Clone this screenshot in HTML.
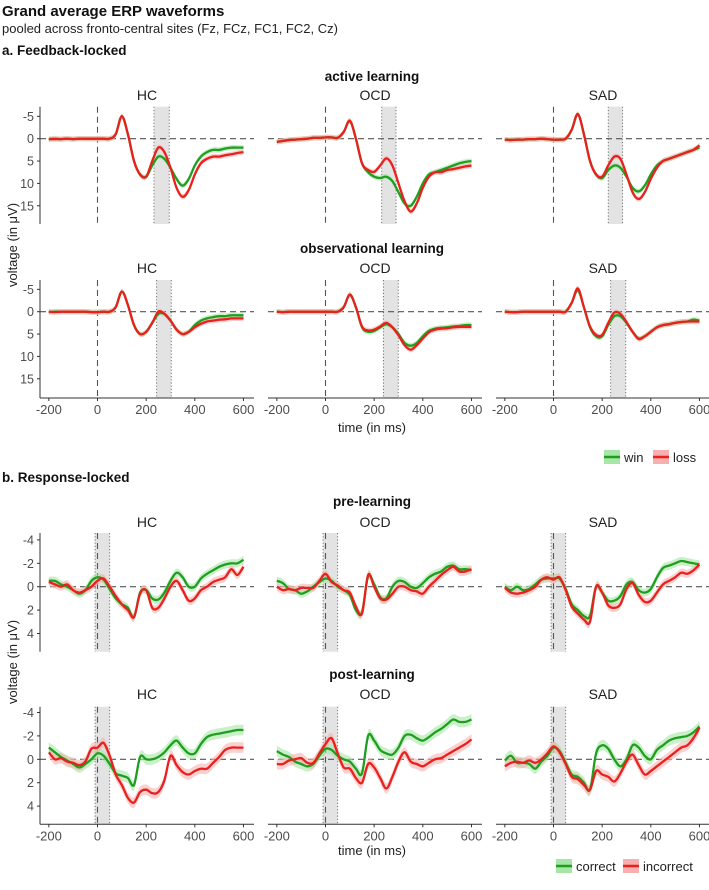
<!DOCTYPE html>
<html><head><meta charset="utf-8"><style>
body{margin:0;background:#fff;}
svg text{font-family:"Liberation Sans",sans-serif;}
</style></head><body>
<svg id="chart" width="709" height="885" viewBox="0 0 709 885" xmlns="http://www.w3.org/2000/svg">
<text x="2" y="16" font-size="15" font-weight="bold" fill="#111">Grand average ERP waveforms</text>
<text x="2" y="33" font-size="13" fill="#222">pooled across fronto-central sites (Fz, FCz, FC1, FC2, Cz)</text>
<text x="2" y="55" font-size="13.5" font-weight="bold" fill="#111">a. Feedback-locked</text>
<text x="372" y="81" font-size="13.5" font-weight="bold" text-anchor="middle" fill="#111">active learning</text>
<text x="372" y="253" font-size="13.5" font-weight="bold" text-anchor="middle" fill="#111">observational learning</text>
<text x="2" y="482" font-size="13.5" font-weight="bold" fill="#111">b. Response-locked</text>
<text x="372" y="506" font-size="13.5" font-weight="bold" text-anchor="middle" fill="#111">pre-learning</text>
<text x="372" y="679" font-size="13.5" font-weight="bold" text-anchor="middle" fill="#111">post-learning</text>
<text x="0" y="0" transform="translate(17,245) rotate(-90)" font-size="13" text-anchor="middle" fill="#222">voltage (in μV)</text>
<text x="0" y="0" transform="translate(17,662) rotate(-90)" font-size="13" text-anchor="middle" fill="#222">voltage (in μV)</text>
<text x="372" y="432" font-size="13" text-anchor="middle" fill="#222">time (in ms)</text>
<text x="372" y="855" font-size="13" text-anchor="middle" fill="#222">time (in ms)</text>
<g id="panels"></g>
<g>
  <rect x="604" y="450" width="16" height="14" fill="#a6e6a6"/>
  <line x1="604" y1="457" x2="620" y2="457" stroke="#1f9e1f" stroke-width="2.5"/>
  <text x="624" y="462" font-size="13" fill="#222">win</text>
  <rect x="653" y="450" width="16" height="14" fill="#f6b0b0"/>
  <line x1="653" y1="457" x2="669" y2="457" stroke="#e8211c" stroke-width="2.5"/>
  <text x="673" y="462" font-size="13" fill="#222">loss</text>
</g>
<g>
  <rect x="556" y="859" width="16" height="14" fill="#a6e6a6"/>
  <line x1="556" y1="866" x2="572" y2="866" stroke="#1f9e1f" stroke-width="2.5"/>
  <text x="576" y="871" font-size="13" fill="#222">correct</text>
  <rect x="623" y="859" width="16" height="14" fill="#f6b0b0"/>
  <line x1="623" y1="866" x2="639" y2="866" stroke="#e8211c" stroke-width="2.5"/>
  <text x="643" y="871" font-size="13" fill="#222">incorrect</text>
</g>
</svg>
<script>
const times=[-200,-175,-150,-125,-100,-75,-50,-25,0,25,50,75,100,125,150,175,200,225,250,275,300,325,350,375,400,425,450,475,500,525,550,575,600];
const xTicks=[-200,0,200,400,600];
const yTicksA=[-5,0,5,10,15];
const yTicksB=[-4,-2,0,2,4];
const groups=["HC","OCD","SAD"];
// feedback-locked, active learning
const actHCWin=[0.1,0,0.1,0,0.1,0,0,0,0,0,0,-1,-5,-1,5,8,8.5,6,4,4.5,6.5,9,10.5,9,6,4,3,2.5,2.5,2.2,2,2,2];
const actHCLoss=[0.1,0.1,0.1,0,0.1,0,0,0,0,0,0,-1,-5,-1,5,8,8.5,5,2,3,6.5,11,13,11.5,8,5.5,4.5,4,4,3.7,3.5,3.2,3];
const actOCDWin=[0.7,0.5,0.3,0.2,0.1,0,-0.2,-0.2,-0.3,-0.3,-0.2,-1.5,-4,0,5.5,7.5,8.5,8.8,8.5,9.5,12,14.5,15,13,10,8,7.5,7,6.5,6,5.5,5.2,5];
const actOCDLoss=[0.7,0.5,0.3,0.2,0.1,0,-0.2,-0.2,-0.3,-0.3,-0.2,-1.5,-4,0,5.5,7,7.4,6,4.4,6,10,14,16.3,14.5,11,8.5,7.5,7.5,7,6.8,6.5,6.2,6];
const actSADWin=[0.2,0.3,0.2,0.2,0.1,0.1,0,0.1,0.2,0.2,0,-2,-5.5,-1,5,8,8.8,7,6,6.5,8.5,11,11.8,10.5,8,6,5,4.5,4,3.5,3,2.5,2];
const actSADLoss=[0.2,0.3,0.2,0.2,0.1,0.1,0,0.1,0.2,0.2,0,-2,-5.5,-1,5,8,8.5,6,4,4.5,8,12,13.5,12,9,6.5,5,4.5,4,3.5,3,2.5,1.5];
// feedback-locked, observational learning
const obsHCWin=[0.1,0,0,0,0,0,0,0.1,0.1,0,0,-1,-4.5,-1.5,3,5,4.5,2.5,0.5,0.5,2,4,5,4.5,3,2,1.5,1.2,1,1,0.8,0.8,0.8];
const obsHCLoss=[0,0.1,0,0,0,0,0,0.1,0.1,0,0,-1,-4.5,-1.5,3,5,4.5,2.5,0,0.5,2,4,5,4.5,3.5,2.7,2.2,2,1.8,1.7,1.5,1.5,1.5];
const obsOCDWin=[0,0.1,0,0,0,0,0,0,0,0,0,-1,-3.8,-1,3.5,4.5,4.3,3.5,2.8,3.5,5,7,7.6,7,5.5,4.3,3.8,3.6,3.5,3.3,3.2,3,3];
const obsOCDLoss=[0,0.1,0,0,0,0,0,0,0,0,0,-1,-3.8,-1,3.3,4.2,4,3.3,2.5,3.5,5.3,7.5,8.5,7.5,6,4.6,4,3.8,3.7,3.5,3.4,3.4,3.4];
const obsSADWin=[0,0.1,0.1,0,0,0,0,0,0,0,0,-2,-4.8,-1,3.5,5.5,5.5,3,1,1,2.5,4.5,6,5.5,4.5,3.5,3,2.8,2.5,2.3,2.2,1.8,2];
const obsSADLoss=[0,0.1,0.1,0,0,0,0,0,0,0,0,-2,-5.2,-1,3.3,5.2,5.2,2.5,0.2,0.5,2.3,4.5,6.1,5.5,4.5,3.5,3,2.8,2.5,2.3,2.2,2.2,2.2];
// response-locked, pre-learning
const preHCCor=[-0.5,-0.5,-0.2,0,0.3,0.6,0.3,-0.5,-0.8,-0.6,0.2,1,1.5,1.8,2.6,0.5,0.3,1,1.1,0.5,-0.5,-1.2,-0.8,0,0,-0.7,-1.1,-1.4,-1.7,-1.9,-2,-2,-2.3];
const preHCInc=[-0.4,-0.2,0,-0.2,0.3,0.5,0.3,0,-0.5,-0.7,0,0.8,1.5,2,2.6,0.6,0.3,1.8,1.8,1,0,-0.5,0.3,1.2,1,0.3,0,-0.4,-0.6,-0.8,-1.5,-1,-1.7];
const preOCDCor=[-0.5,-0.3,0.2,0.3,0.6,0.4,0,-0.4,-0.7,-0.5,0,0.3,0.7,2,2.2,-0.9,-0.2,0.9,1,0,-0.5,-0.4,0,0.1,-0.3,-0.8,-1.1,-1.3,-1.7,-1.8,-1.5,-1.5,-1.4];
const preOCDInc=[0,0.3,0.2,0.3,0.1,0.1,0.1,-0.5,-1.1,-0.4,-0.1,0.3,0.5,1.7,2.3,-1,0,1,1.1,0.6,0,0,0.3,0.4,0.6,0,-0.5,-1,-1.4,-1.7,-1.3,-1.3,-1.5];
const preSADCor=[0,0.3,0,0.3,0.2,-0.2,-0.6,-0.7,-0.7,-0.7,0.2,1.5,2,2.5,2.5,0,0.5,1.2,1.2,0.8,-0.2,-0.4,0.3,0.5,0.2,-0.8,-1.6,-1.8,-2,-2.2,-2.1,-2,-1.9];
const preSADInc=[0.1,0.5,0.6,0.5,0.3,0,-0.6,-0.8,-0.6,-0.8,0.3,1.7,2.3,2.8,3,0,0.5,1.6,1.8,1.5,0.2,-0.3,0.7,1.3,1.2,0.5,-0.2,-0.5,-0.8,-1.2,-1.1,-1.4,-1.9];
// response-locked, post-learning
const postHCCor=[-1,-0.6,-0.2,0.1,0.4,0.7,0.4,0,-0.5,-0.3,0.4,1.2,1.4,1.6,2.2,-0.2,0,0,-0.2,-0.6,-1.2,-1.6,-1,-0.5,-0.5,-1.3,-1.9,-2.1,-2.2,-2.3,-2.4,-2.5,-2.5];
const postHCInc=[-0.6,0,-0.1,0.2,0.3,0.5,0.2,-0.9,-1,-1.4,-0.3,1.3,2.2,3.3,3.7,2.8,2.6,2.9,2.8,1.8,-0.3,0.5,1.1,1.3,1,0.8,0.8,0.3,-0.2,-0.8,-1,-1,-1];
const postOCDCor=[-0.7,-0.4,-0.2,0.2,0.4,0.6,0.4,-0.3,-0.9,-0.8,-0.3,0,0.2,0.8,1.2,-2,-1.6,-0.8,-0.5,-0.4,-1,-2,-2.1,-1.8,-1.6,-1.9,-2.3,-2.6,-3,-3.4,-3.2,-3.2,-3.4];
const postOCDInc=[0.4,0.4,0.1,0,-0.1,0.3,0.3,-0.5,-1.3,-1.8,-0.5,0.7,0.8,1.6,2,0.4,0.7,1.6,2.5,1.5,0.2,-0.6,0.2,0.4,0.6,0.3,0,-0.1,-0.4,-0.7,-1,-1.3,-1.7];
const postSADCor=[0.1,-0.3,0.3,0.3,0.4,0.8,0.2,-0.3,-1,-0.7,0.3,1.3,1.5,2,2.6,-0.5,-1.2,-0.9,0,0.6,0,-1.2,-1,-0.3,0,-0.8,-1.2,-1.6,-1.8,-1.9,-2,-2.3,-2.8];
const postSADInc=[0.6,0.3,0.2,0.3,0.1,0.3,0,-0.5,-1.1,-0.6,0.4,1.5,1.7,2.2,2.6,1,1.3,1.5,1.9,1.2,0.2,-0.4,0.5,1.3,1,0.6,0.2,-0.2,-0.6,-1,-1.2,-1.8,-2.7];

const NS="http://www.w3.org/2000/svg";
const root=document.getElementById('panels');
const X0=97.5, XS=0.2433, PX=228;
function mk(tag,attrs,parent){const e=document.createElementNS(NS,tag);for(const k in attrs)e.setAttribute(k,attrs[k]);(parent||root).appendChild(e);return e;}
function smooth(pts){let d="M"+pts[0][0].toFixed(1)+","+pts[0][1].toFixed(1);
  for(let i=0;i<pts.length-1;i++){const p0=pts[Math.max(0,i-1)],p1=pts[i],p2=pts[i+1],p3=pts[Math.min(pts.length-1,i+2)];
    const c1=[p1[0]+(p2[0]-p0[0])/6,p1[1]+(p2[1]-p0[1])/6],c2=[p2[0]-(p3[0]-p1[0])/6,p2[1]-(p3[1]-p1[1])/6];
    d+=" C"+c1[0].toFixed(1)+","+c1[1].toFixed(1)+" "+c2[0].toFixed(1)+","+c2[1].toFixed(1)+" "+p2[0].toFixed(1)+","+p2[1].toFixed(1);}
  return d;}
function panel(o){
  const px=o.col*PX;
  const xs=t=>px+X0+t*XS;
  const ys=v=>o.zero+v*o.scale;
  const g=mk('g',{});
  
  
  const sh=mk('rect',{x:xs(o.shade[0]),y:o.top,width:xs(o.shade[1])-xs(o.shade[0]),height:o.bottom-o.top,fill:'#e3e3e3'},g);
  
  
  o.shade.forEach(t=>mk('line',{x1:xs(t),x2:xs(t),y1:o.top,y2:o.bottom,stroke:'#666','stroke-width':0.9,'stroke-dasharray':'1.2,2'},g));
  mk('line',{x1:px+40,x2:px+254,y1:ys(0),y2:ys(0),stroke:'#555','stroke-width':1.1,'stroke-dasharray':'6,4'},g);
  mk('line',{x1:xs(0),x2:xs(0),y1:o.top,y2:o.bottom,stroke:'#555','stroke-width':1.1,'stroke-dasharray':'6,4'},g);
  const series=[[o.a,'#a6e6a6','#1f9e1f',o.n1],[o.b,'#f6b0b0','#e8211c',o.n2]];
  series.forEach(s=>{
    const up=times.map((t,i)=>[xs(t),ys(s[0][i]-o.se)]);
    const dn=times.map((t,i)=>[xs(t),ys(s[0][i]+o.se)]).reverse();
    const rib=mk('path',{d:smooth(up)+" L"+smooth(dn).slice(1)+" Z",fill:s[1],'fill-opacity':0.6},g);
    
    
  });
  series.forEach(s=>{
    const ln=mk('path',{d:smooth(times.map((t,i)=>[xs(t),ys(s[0][i])])),fill:'none',stroke:s[2],'stroke-width':2.3,'stroke-linejoin':'round'},g);
    
    
  });
  const tt=mk('text',{x:px+147,y:o.titleY,'font-size':14,'text-anchor':'middle',fill:'#222'},g);
  tt.textContent=groups[o.col];
  
  
  if(o.col===0){
    mk('line',{x1:px+40,x2:px+40,y1:o.top,y2:o.bottom,stroke:'#333','stroke-width':1},g);
    o.yticks.forEach(v=>{
      mk('line',{x1:px+37,x2:px+40,y1:ys(v),y2:ys(v),stroke:'#333'},g);
      const l=mk('text',{x:px+34,y:ys(v)+4.5,'font-size':12.5,'text-anchor':'end',fill:'#4d4d4d'},g);
      l.textContent=v;
      
      
    });
  }
  if(o.xaxis){
    mk('line',{x1:px+40,x2:px+254,y1:o.bottom,y2:o.bottom,stroke:'#333','stroke-width':1},g);
    xTicks.forEach(t=>{
      mk('line',{x1:xs(t),x2:xs(t),y1:o.bottom,y2:o.bottom+3,stroke:'#333'},g);
      const l=mk('text',{x:xs(t),y:o.bottom+16,'font-size':13,'text-anchor':'middle',fill:'#4d4d4d'},g);
      l.textContent=t;
      
      
    });
  }
}
const A={top:106.7,bottom:224,zero:138.7,scale:4.47,se:0.6,yticks:yTicksA,titleY:100,n1:'win',n2:'loss'};
const O={top:280,bottom:398,zero:311.7,scale:4.47,se:0.6,yticks:yTicksA,titleY:273,xaxis:true,n1:'win',n2:'loss'};
const P={top:533,bottom:651.7,zero:586.7,scale:11.7,se:0.35,yticks:yTicksB,titleY:527,n1:'correct',n2:'incorrect'};
const Q={top:706.7,bottom:824.3,zero:759.3,scale:11.7,se:0.45,yticks:yTicksB,titleY:699,xaxis:true,n1:'correct',n2:'incorrect'};
panel(Object.assign({},A,{col:0,name:'active-hc',a:actHCWin,b:actHCLoss,shade:[232,295]}));
panel(Object.assign({},A,{col:1,name:'active-ocd',a:actOCDWin,b:actOCDLoss,shade:[231,290]}));
panel(Object.assign({},A,{col:2,name:'active-sad',a:actSADWin,b:actSADLoss,shade:[225,284]}));
panel(Object.assign({},O,{col:0,name:'observational-hc',a:obsHCWin,b:obsHCLoss,shade:[243,303]}));
panel(Object.assign({},O,{col:1,name:'observational-ocd',a:obsOCDWin,b:obsOCDLoss,shade:[238,299]}));
panel(Object.assign({},O,{col:2,name:'observational-sad',a:obsSADWin,b:obsSADLoss,shade:[235,297]}));
panel(Object.assign({},P,{col:0,name:'pre-hc',a:preHCCor,b:preHCInc,shade:[-10,50]}));
panel(Object.assign({},P,{col:1,name:'pre-ocd',a:preOCDCor,b:preOCDInc,shade:[-10,50]}));
panel(Object.assign({},P,{col:2,name:'pre-sad',a:preSADCor,b:preSADInc,shade:[-10,50]}));
panel(Object.assign({},Q,{col:0,name:'post-hc',a:postHCCor,b:postHCInc,shade:[-10,50]}));
panel(Object.assign({},Q,{col:1,name:'post-ocd',a:postOCDCor,b:postOCDInc,shade:[-10,50]}));
panel(Object.assign({},Q,{col:2,name:'post-sad',a:postSADCor,b:postSADInc,shade:[-10,50]}));
</script>
</body></html>
